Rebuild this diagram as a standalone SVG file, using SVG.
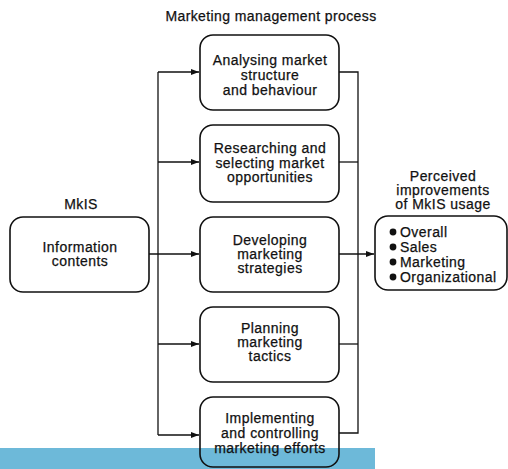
<svg xmlns="http://www.w3.org/2000/svg" width="508" height="469" viewBox="0 0 508 469">
<defs>
<style>
text{font-family:"Liberation Sans",Arial,sans-serif;font-size:14px;letter-spacing:0.45px;fill:#111;stroke:#111;stroke-width:0.25;text-anchor:middle}
.box{fill:#fff;stroke:#111;stroke-width:1.6}
.ln{fill:none;stroke:#111;stroke-width:1.3}
.l{text-anchor:start}
</style>
<marker id="ah" markerWidth="8" markerHeight="6" refX="8" refY="3" orient="auto" markerUnits="userSpaceOnUse">
<path d="M0,0 L8,3 L0,6 z" fill="#111"/>
</marker>
</defs>
<rect x="0" y="448" width="375" height="21" fill="#6DB9D9"/>
<text x="271" y="21" style="font-size:14px;letter-spacing:0.4px">Marketing management process</text>
<g id="connectors">
<path class="ln" d="M158,72 V435"/>
<path class="ln" d="M158,72 H199" marker-end="url(#ah)"/>
<path class="ln" d="M158,162 H199" marker-end="url(#ah)"/>
<path class="ln" d="M149,254 H199" marker-end="url(#ah)"/>
<path class="ln" d="M158,344 H199" marker-end="url(#ah)"/>
<path class="ln" d="M158,435 H199" marker-end="url(#ah)"/>
<path class="ln" d="M339,72 H358 V433 H339"/>
<path class="ln" d="M339,162 H358"/>
<path class="ln" d="M339,344 H358"/>
<path class="ln" d="M339,254 H374" marker-end="url(#ah)"/>
</g>
<g id="mkis">
<text x="81" y="209">MkIS</text>
<rect class="box" x="10" y="217" width="139" height="75" rx="13"/>
<text x="80" y="252">Information</text>
<text x="80" y="266">contents</text>
</g>
<g id="n1">
<rect class="box" x="200" y="35" width="139" height="75" rx="13"/>
<text x="270" y="65">Analysing market</text>
<text x="270" y="80">structure</text>
<text x="270" y="95">and behaviour</text>
</g>
<g id="n2">
<rect class="box" x="200" y="125" width="139" height="77" rx="13"/>
<text x="270" y="153">Researching and</text>
<text x="270" y="168">selecting market</text>
<text x="270" y="182">opportunities</text>
</g>
<g id="n3">
<rect class="box" x="200" y="217" width="139" height="75" rx="13"/>
<text x="270" y="245">Developing</text>
<text x="270" y="259">marketing</text>
<text x="270" y="273">strategies</text>
</g>
<g id="n4">
<rect class="box" x="200" y="307" width="139" height="75" rx="13"/>
<text x="270" y="333">Planning</text>
<text x="270" y="347">marketing</text>
<text x="270" y="361">tactics</text>
</g>
<g id="n5">
<rect class="box" x="200" y="397" width="139" height="70" rx="13" style="fill:none"/>
<text x="270" y="423">Implementing</text>
<text x="270" y="438">and controlling</text>
<text x="270" y="453">marketing efforts</text>
</g>
<g id="improvements">
<text x="443" y="181">Perceived</text>
<text x="443" y="195">improvements</text>
<text x="443" y="209">of MkIS usage</text>
<rect class="box" x="375" y="216" width="132" height="74" rx="13"/>
<circle cx="393" cy="232" r="3.4" fill="#111"/>
<circle cx="393" cy="247" r="3.4" fill="#111"/>
<circle cx="393" cy="262" r="3.4" fill="#111"/>
<circle cx="393" cy="277" r="3.4" fill="#111"/>
<text class="l" x="400" y="237">Overall</text>
<text class="l" x="400" y="252">Sales</text>
<text class="l" x="400" y="267">Marketing</text>
<text class="l" x="400" y="282">Organizational</text>
</g>
</svg>
